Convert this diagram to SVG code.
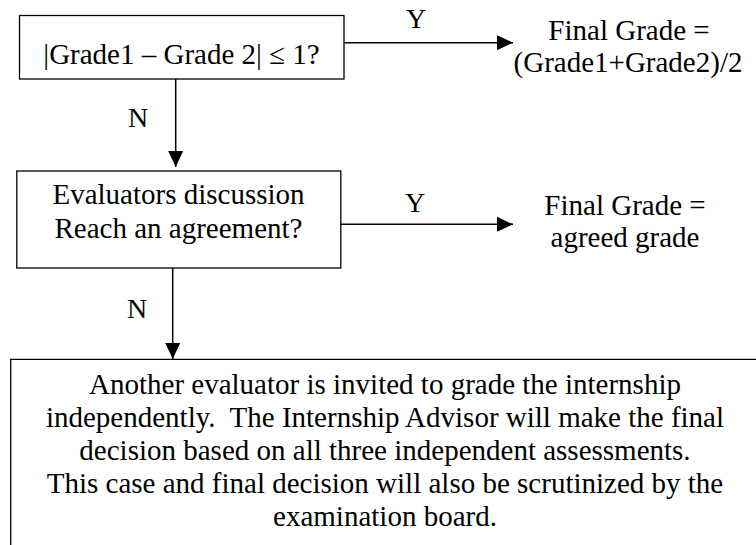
<svg xmlns="http://www.w3.org/2000/svg" width="756" height="545" viewBox="0 0 756 545">
  <style>
    .box { fill: #ffffff; stroke: #000000; stroke-width: 1.3; }
    .edge { stroke: #000000; stroke-width: 1.5; fill: none; }
    .t { font-family: "Liberation Serif", serif; font-size: 29px; text-anchor: middle; fill: #000000; }
    .lbl { font-family: "Liberation Serif", serif; font-size: 28px; fill: #000000; }
  </style>
  <defs>
    <marker id="arrow" viewBox="0 0 16 16" refX="16" refY="8" markerWidth="16" markerHeight="16" markerUnits="userSpaceOnUse" orient="auto">
      <path d="M0,0.5 L16,8 L0,15.5 Z" fill="#000000"/>
    </marker>
  </defs>

  <rect x="0" y="0" width="756" height="545" fill="#ffffff"/>

  <g id="connectors">
    <line class="edge" x1="344" y1="42.7" x2="513" y2="42.7" marker-end="url(#arrow)"/>
    <line class="edge" x1="175.7" y1="79" x2="175.7" y2="167" marker-end="url(#arrow)"/>
    <line class="edge" x1="341" y1="224.3" x2="513" y2="224.3" marker-end="url(#arrow)"/>
    <line class="edge" x1="172.7" y1="268" x2="172.7" y2="359" marker-end="url(#arrow)"/>
    <text class="lbl" x="406" y="28">Y</text>
    <text class="lbl" x="128" y="127">N</text>
    <text class="lbl" x="405" y="212">Y</text>
    <text class="lbl" x="127" y="318">N</text>
  </g>

  <g id="check-difference">
    <rect class="box" x="19.5" y="15.5" width="324.5" height="63.5"/>
    <text class="t" x="181.5" y="64">|Grade1 – Grade 2| ≤ 1?</text>
  </g>

  <g id="average-grade">
    <text class="t" x="629" y="40">Final Grade =</text>
    <text class="t" x="628" y="72">(Grade1+Grade2)/2</text>
  </g>

  <g id="discussion">
    <rect class="box" x="16.8" y="171" width="324" height="97"/>
    <text class="t" x="178.5" y="204">Evaluators discussion</text>
    <text class="t" x="178.5" y="238">Reach an agreement?</text>
  </g>

  <g id="agreed-grade">
    <text class="t" x="625" y="215">Final Grade =</text>
    <text class="t" x="625" y="247">agreed grade</text>
  </g>

  <g id="third-evaluator">
    <path class="box" d="M10.7,546 V359.3 H757"/>
    <text class="t" x="385" y="394">Another evaluator is invited to grade the internship</text>
    <text class="t" x="385" y="427" xml:space="preserve">independently.  The Internship Advisor will make the final</text>
    <text class="t" x="385" y="460">decision based on all three independent assessments.</text>
    <text class="t" x="385" y="493">This case and final decision will also be scrutinized by the</text>
    <text class="t" x="385" y="526">examination board.</text>
  </g>
</svg>
